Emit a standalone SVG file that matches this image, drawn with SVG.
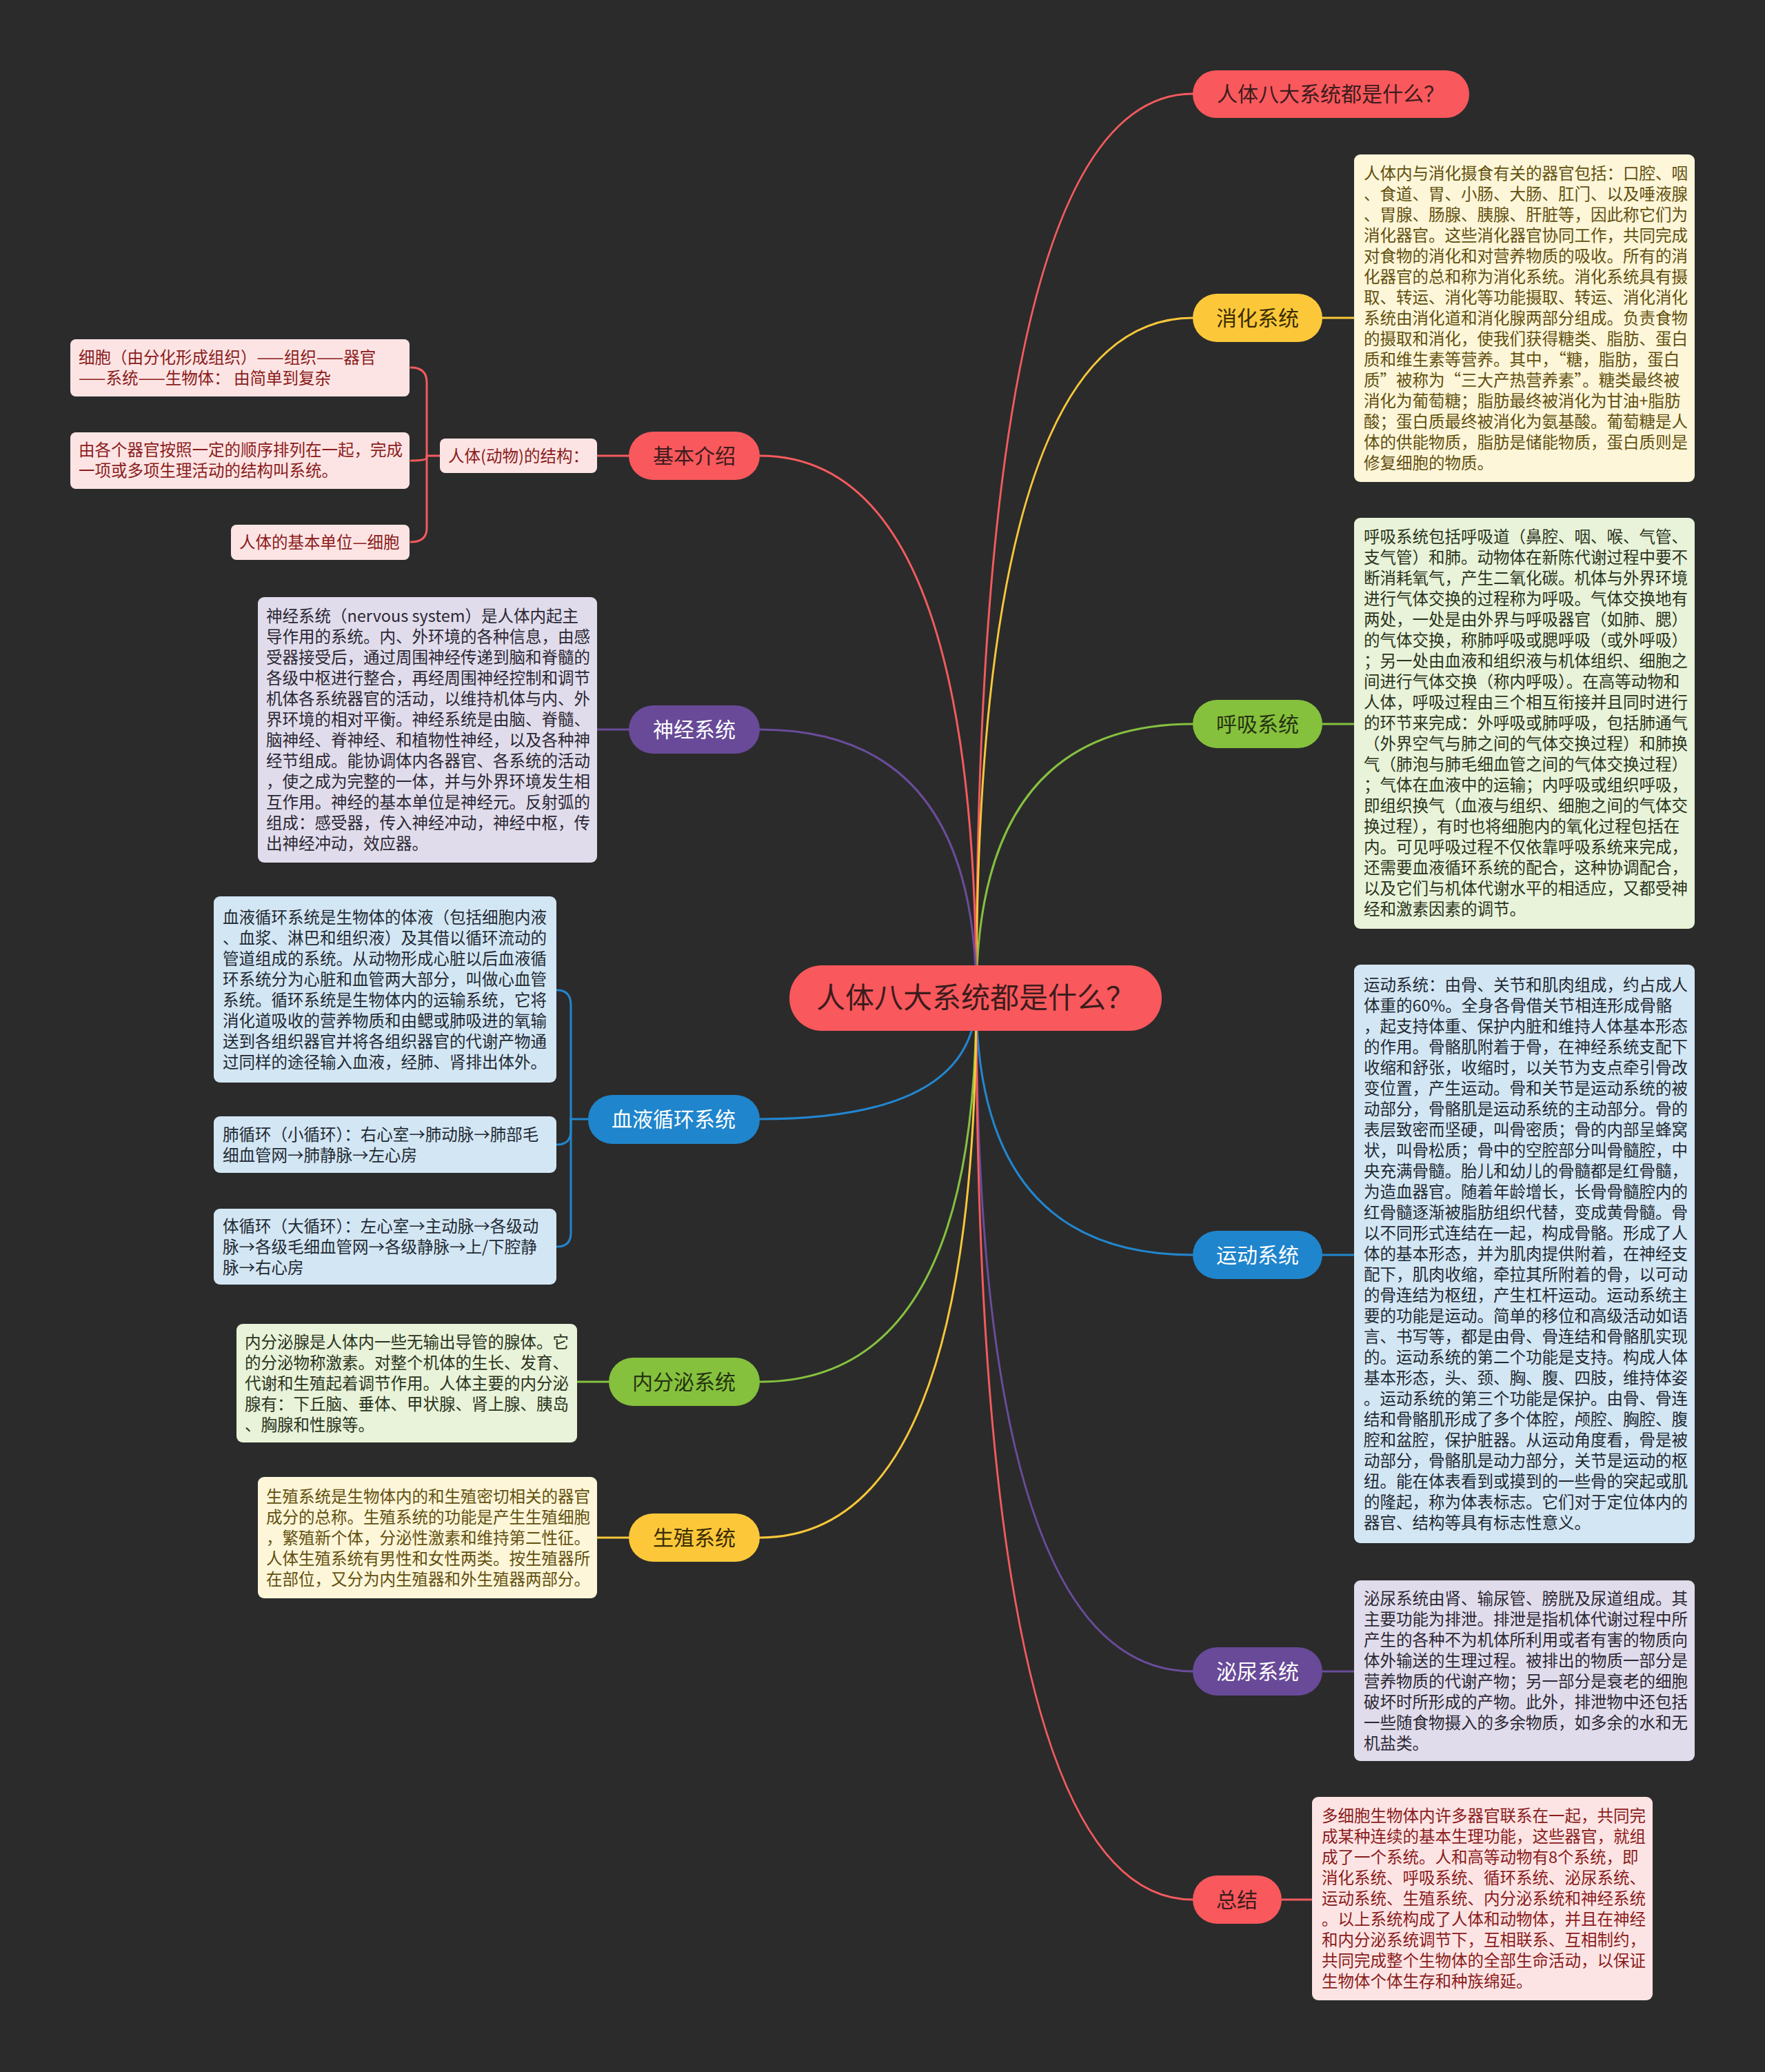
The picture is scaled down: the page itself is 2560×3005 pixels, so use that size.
<svg xmlns="http://www.w3.org/2000/svg" width="2560" height="3005" viewBox="0 0 2560 3005">
<style>
.c{fill:none;stroke-width:3;stroke-linecap:round}
.sr{stroke:#f45b5e}.sy{stroke:#f8c73a}.sg{stroke:#86c13f}.sb{stroke:#2286cf}.sp{stroke:#6a4c9b}
text{font-family:"Noto Sans CJK SC","Noto Sans",sans-serif}
.t{font-size:23.5px}
.pt{font-size:30px;text-anchor:middle}
.pr{fill:#f9585c}.py{fill:#fcc83a}.pg{fill:#85c13d}.pb{fill:#1f85cc}.pp{fill:#684a98}
.tr{fill:#3c1c1d}.ty{fill:#3a2c00}.tg{fill:#26330f}.tw{fill:#ffffff}
.br{fill:#fde4e4}.by{fill:#fdf6d9}.bg{fill:#e8f3d9}.bb{fill:#d3e6f4}.bp{fill:#e1dcec}
.xr{fill:#8a1c1c}.xy{fill:#62500f}.xg{fill:#2b3320}.xb{fill:#1f2a33}.xp{fill:#2b2833}
</style>
<rect width="2560" height="3005" fill="#2b2b2b"/>
<g id="connectors">
<path class="c sr" d="M1416,1447 Q1416,136 1730,136"/>
<path class="c sy" d="M1416,1447 Q1416,461 1730,461"/>
<path class="c sg" d="M1416,1447 Q1416,1050 1730,1050"/>
<path class="c sb" d="M1416,1447 Q1416,1820 1730,1820"/>
<path class="c sp" d="M1416,1447 Q1416,2424 1730,2424"/>
<path class="c sr" d="M1416,1447 Q1416,2755 1730,2755"/>
<path class="c sr" d="M1416,1447 Q1416,661 1102,661"/>
<path class="c sp" d="M1416,1447 Q1416,1058 1102,1058"/>
<path class="c sb" d="M1416,1447 Q1416,1623 1102,1623"/>
<path class="c sg" d="M1416,1447 Q1416,2004 1102,2004"/>
<path class="c sy" d="M1416,1447 Q1416,2230 1102,2230"/>
<path class="c sy" d="M1918,461 L1964,461"/>
<path class="c sg" d="M1918,1050 L1964,1050"/>
<path class="c sb" d="M1918,1820 L1964,1820"/>
<path class="c sp" d="M1918,2424 L1964,2424"/>
<path class="c sr" d="M1859,2755 L1903,2755"/>
<path class="c sr" d="M912,661 L866,661"/>
<path class="c sp" d="M912,1058 L866,1058"/>
<path class="c sg" d="M883,2004 L837,2004"/>
<path class="c sy" d="M912,2230 L866,2230"/>
<path class="c sr" d="M638,661 L619,661 L619,555 Q619,533 596,533"/>
<path class="c sr" d="M619,661 L619,766 Q619,786 596,786"/>
<path class="c sr" d="M619,661 L619,664 Q619,668 596,668"/>
<path class="c sb" d="M853,1623 L828,1623 L828,1458 Q828,1436 808,1436"/>
<path class="c sb" d="M828,1623 L828,1640 Q828,1660 808,1660"/>
<path class="c sb" d="M828,1623 L828,1788 Q828,1808 808,1808"/>
</g>
<g id="center">
<rect x="1145" y="1400" width="540" height="95" rx="47" class="pr"/>
<text x="1415" y="1462" style="font-size:42px;text-anchor:middle" class="tr">人体八大系统都是什么？</text>
</g>
<g id="n-title">
<rect x="1730" y="102" width="401" height="69" rx="34" class="pr"/>
<text x="1930" y="147" class="pt tr">人体八大系统都是什么？</text>
</g>
<g id="n-xiaohua">
<rect x="1730" y="426" width="188" height="70" rx="35" class="py"/>
<text x="1824" y="472" class="pt ty">消化系统</text>
<rect x="1964" y="224" width="494" height="475" rx="9" class="by"/>
<text class="t xy" x="1978" y="260"><tspan x="1978">人体内与消化摄食有关的器官包括：口腔、咽</tspan><tspan x="1978" dy="30">、食道、胃、小肠、大肠、肛门、以及唾液腺</tspan><tspan x="1978" dy="30">、胃腺、肠腺、胰腺、肝脏等，因此称它们为</tspan><tspan x="1978" dy="30">消化器官。这些消化器官协同工作，共同完成</tspan><tspan x="1978" dy="30">对食物的消化和对营养物质的吸收。所有的消</tspan><tspan x="1978" dy="30">化器官的总和称为消化系统。消化系统具有摄</tspan><tspan x="1978" dy="30">取、转运、消化等功能摄取、转运、消化消化</tspan><tspan x="1978" dy="30">系统由消化道和消化腺两部分组成。负责食物</tspan><tspan x="1978" dy="30">的摄取和消化，使我们获得糖类、脂肪、蛋白</tspan><tspan x="1978" dy="30">质和维生素等营养。其中，“糖，脂肪，蛋白</tspan><tspan x="1978" dy="30">质”被称为“三大产热营养素”。糖类最终被</tspan><tspan x="1978" dy="30">消化为葡萄糖；脂肪最终被消化为甘油+脂肪</tspan><tspan x="1978" dy="30">酸；蛋白质最终被消化为氨基酸。葡萄糖是人</tspan><tspan x="1978" dy="30">体的供能物质，脂肪是储能物质，蛋白质则是</tspan><tspan x="1978" dy="30">修复细胞的物质。</tspan></text>
</g>
<g id="n-huxi">
<rect x="1730" y="1015" width="188" height="70" rx="35" class="pg"/>
<text x="1824" y="1061" class="pt tg">呼吸系统</text>
<rect x="1964" y="751" width="494" height="596" rx="9" class="bg"/>
<text class="t xg" x="1978" y="787"><tspan x="1978">呼吸系统包括呼吸道（鼻腔、咽、喉、气管、</tspan><tspan x="1978" dy="30">支气管）和肺。动物体在新陈代谢过程中要不</tspan><tspan x="1978" dy="30">断消耗氧气，产生二氧化碳。机体与外界环境</tspan><tspan x="1978" dy="30">进行气体交换的过程称为呼吸。气体交换地有</tspan><tspan x="1978" dy="30">两处，一处是由外界与呼吸器官（如肺、腮）</tspan><tspan x="1978" dy="30">的气体交换，称肺呼吸或腮呼吸（或外呼吸）</tspan><tspan x="1978" dy="30">；另一处由血液和组织液与机体组织、细胞之</tspan><tspan x="1978" dy="30">间进行气体交换（称内呼吸）。在高等动物和</tspan><tspan x="1978" dy="30">人体，呼吸过程由三个相互衔接并且同时进行</tspan><tspan x="1978" dy="30">的环节来完成：外呼吸或肺呼吸，包括肺通气</tspan><tspan x="1978" dy="30">（外界空气与肺之间的气体交换过程）和肺换</tspan><tspan x="1978" dy="30">气（肺泡与肺毛细血管之间的气体交换过程）</tspan><tspan x="1978" dy="30">；气体在血液中的运输；内呼吸或组织呼吸，</tspan><tspan x="1978" dy="30">即组织换气（血液与组织、细胞之间的气体交</tspan><tspan x="1978" dy="30">换过程），有时也将细胞内的氧化过程包括在</tspan><tspan x="1978" dy="30">内。可见呼吸过程不仅依靠呼吸系统来完成，</tspan><tspan x="1978" dy="30">还需要血液循环系统的配合，这种协调配合，</tspan><tspan x="1978" dy="30">以及它们与机体代谢水平的相适应，又都受神</tspan><tspan x="1978" dy="30">经和激素因素的调节。</tspan></text>
</g>
<g id="n-yundong">
<rect x="1730" y="1785" width="188" height="70" rx="35" class="pb"/>
<text x="1824" y="1831" class="pt tw">运动系统</text>
<rect x="1964" y="1399" width="494" height="839" rx="9" class="bb"/>
<text class="t xb" x="1978" y="1437"><tspan x="1978">运动系统：由骨、关节和肌肉组成，约占成人</tspan><tspan x="1978" dy="30">体重的60%。全身各骨借关节相连形成骨骼</tspan><tspan x="1978" dy="30">，起支持体重、保护内脏和维持人体基本形态</tspan><tspan x="1978" dy="30">的作用。骨骼肌附着于骨，在神经系统支配下</tspan><tspan x="1978" dy="30">收缩和舒张，收缩时，以关节为支点牵引骨改</tspan><tspan x="1978" dy="30">变位置，产生运动。骨和关节是运动系统的被</tspan><tspan x="1978" dy="30">动部分，骨骼肌是运动系统的主动部分。骨的</tspan><tspan x="1978" dy="30">表层致密而坚硬，叫骨密质；骨的内部呈蜂窝</tspan><tspan x="1978" dy="30">状，叫骨松质；骨中的空腔部分叫骨髓腔，中</tspan><tspan x="1978" dy="30">央充满骨髓。胎儿和幼儿的骨髓都是红骨髓，</tspan><tspan x="1978" dy="30">为造血器官。随着年龄增长，长骨骨髓腔内的</tspan><tspan x="1978" dy="30">红骨髓逐渐被脂肪组织代替，变成黄骨髓。骨</tspan><tspan x="1978" dy="30">以不同形式连结在一起，构成骨骼。形成了人</tspan><tspan x="1978" dy="30">体的基本形态，并为肌肉提供附着，在神经支</tspan><tspan x="1978" dy="30">配下，肌肉收缩，牵拉其所附着的骨，以可动</tspan><tspan x="1978" dy="30">的骨连结为枢纽，产生杠杆运动。运动系统主</tspan><tspan x="1978" dy="30">要的功能是运动。简单的移位和高级活动如语</tspan><tspan x="1978" dy="30">言、书写等，都是由骨、骨连结和骨骼肌实现</tspan><tspan x="1978" dy="30">的。运动系统的第二个功能是支持。构成人体</tspan><tspan x="1978" dy="30">基本形态，头、颈、胸、腹、四肢，维持体姿</tspan><tspan x="1978" dy="30">。运动系统的第三个功能是保护。由骨、骨连</tspan><tspan x="1978" dy="30">结和骨骼肌形成了多个体腔，颅腔、胸腔、腹</tspan><tspan x="1978" dy="30">腔和盆腔，保护脏器。从运动角度看，骨是被</tspan><tspan x="1978" dy="30">动部分，骨骼肌是动力部分，关节是运动的枢</tspan><tspan x="1978" dy="30">纽。能在体表看到或摸到的一些骨的突起或肌</tspan><tspan x="1978" dy="30">的隆起，称为体表标志。它们对于定位体内的</tspan><tspan x="1978" dy="30">器官、结构等具有标志性意义。</tspan></text>
</g>
<g id="n-miniao">
<rect x="1730" y="2389" width="188" height="70" rx="35" class="pp"/>
<text x="1824" y="2435" class="pt tw">泌尿系统</text>
<rect x="1964" y="2292" width="494" height="262" rx="9" class="bp"/>
<text class="t xp" x="1978" y="2327"><tspan x="1978">泌尿系统由肾、输尿管、膀胱及尿道组成。其</tspan><tspan x="1978" dy="30">主要功能为排泄。排泄是指机体代谢过程中所</tspan><tspan x="1978" dy="30">产生的各种不为机体所利用或者有害的物质向</tspan><tspan x="1978" dy="30">体外输送的生理过程。被排出的物质一部分是</tspan><tspan x="1978" dy="30">营养物质的代谢产物；另一部分是衰老的细胞</tspan><tspan x="1978" dy="30">破坏时所形成的产物。此外，排泄物中还包括</tspan><tspan x="1978" dy="30">一些随食物摄入的多余物质，如多余的水和无</tspan><tspan x="1978" dy="30">机盐类。</tspan></text>
</g>
<g id="n-zongjie">
<rect x="1730" y="2720" width="129" height="70" rx="35" class="pr"/>
<text x="1794" y="2766" class="pt tr">总结</text>
<rect x="1903" y="2606" width="494" height="295" rx="9" class="br"/>
<text class="t xr" x="1917" y="2642"><tspan x="1917">多细胞生物体内许多器官联系在一起，共同完</tspan><tspan x="1917" dy="30">成某种连续的基本生理功能，这些器官，就组</tspan><tspan x="1917" dy="30">成了一个系统。人和高等动物有8个系统，即</tspan><tspan x="1917" dy="30">消化系统、呼吸系统、循环系统、泌尿系统、</tspan><tspan x="1917" dy="30">运动系统、生殖系统、内分泌系统和神经系统</tspan><tspan x="1917" dy="30">。以上系统构成了人体和动物体，并且在神经</tspan><tspan x="1917" dy="30">和内分泌系统调节下，互相联系、互相制约，</tspan><tspan x="1917" dy="30">共同完成整个生物体的全部生命活动，以保证</tspan><tspan x="1917" dy="30">生物体个体生存和种族绵延。</tspan></text>
</g>
<g id="n-jiben">
<rect x="912" y="626" width="190" height="70" rx="35" class="pr"/>
<text x="1007" y="672" class="pt tr">基本介绍</text>
</g>
<g id="n-jiegou">
<rect x="638" y="636" width="228" height="50" rx="8" class="br"/>
<text x="752" y="670" class="t xr" style="text-anchor:middle">人体(动物)的结构：</text>
</g>
<g id="n-jiben-a">
<rect x="102" y="492" width="492" height="83" rx="8" class="br"/>
<text class="t xr" x="114" y="527"><tspan x="114">细胞（由分化形成组织）——组织——器官</tspan><tspan x="114" dy="30">——系统——生物体：  由简单到复杂</tspan></text>
</g>
<g id="n-jiben-b">
<rect x="102" y="627" width="492" height="82" rx="8" class="br"/>
<text class="t xr" x="114" y="661"><tspan x="114">由各个器官按照一定的顺序排列在一起，完成</tspan><tspan x="114" dy="30">一项或多项生理活动的结构叫系统。</tspan></text>
</g>
<g id="n-jiben-c">
<rect x="335" y="761" width="259" height="51" rx="8" class="br"/>
<text class="t xr" x="347" y="795">人体的基本单位—细胞</text>
</g>
<g id="n-shenjing">
<rect x="912" y="1023" width="190" height="70" rx="35" class="pp"/>
<text x="1007" y="1069" class="pt tw">神经系统</text>
<rect x="374" y="866" width="492" height="385" rx="9" class="bp"/>
<text class="t xp" x="386" y="902"><tspan x="386">神经系统（nervous system）是人体内起主</tspan><tspan x="386" dy="30">导作用的系统。内、外环境的各种信息，由感</tspan><tspan x="386" dy="30">受器接受后，通过周围神经传递到脑和脊髓的</tspan><tspan x="386" dy="30">各级中枢进行整合，再经周围神经控制和调节</tspan><tspan x="386" dy="30">机体各系统器官的活动，以维持机体与内、外</tspan><tspan x="386" dy="30">界环境的相对平衡。神经系统是由脑、脊髓、</tspan><tspan x="386" dy="30">脑神经、脊神经、和植物性神经，以及各种神</tspan><tspan x="386" dy="30">经节组成。能协调体内各器官、各系统的活动</tspan><tspan x="386" dy="30">，使之成为完整的一体，并与外界环境发生相</tspan><tspan x="386" dy="30">互作用。神经的基本单位是神经元。反射弧的</tspan><tspan x="386" dy="30">组成：感受器，传入神经冲动，神经中枢，传</tspan><tspan x="386" dy="30">出神经冲动，效应器。</tspan></text>
</g>
<g id="n-xueye">
<rect x="853" y="1588" width="249" height="71" rx="35" class="pb"/>
<text x="977" y="1634" class="pt tw">血液循环系统</text>
</g>
<g id="n-xueye-a">
<rect x="310" y="1300" width="497" height="270" rx="9" class="bb"/>
<text class="t xb" x="323" y="1339"><tspan x="323">血液循环系统是生物体的体液（包括细胞内液</tspan><tspan x="323" dy="30">、血浆、淋巴和组织液）及其借以循环流动的</tspan><tspan x="323" dy="30">管道组成的系统。从动物形成心脏以后血液循</tspan><tspan x="323" dy="30">环系统分为心脏和血管两大部分，叫做心血管</tspan><tspan x="323" dy="30">系统。循环系统是生物体内的运输系统，它将</tspan><tspan x="323" dy="30">消化道吸收的营养物质和由鳃或肺吸进的氧输</tspan><tspan x="323" dy="30">送到各组织器官并将各组织器官的代谢产物通</tspan><tspan x="323" dy="30">过同样的途径输入血液，经肺、肾排出体外。</tspan></text>
</g>
<g id="n-xueye-b">
<rect x="310" y="1619" width="497" height="82" rx="9" class="bb"/>
<text class="t xb" x="323" y="1654"><tspan x="323">肺循环（小循环）：右心室→肺动脉→肺部毛</tspan><tspan x="323" dy="30">细血管网→肺静脉→左心房</tspan></text>
</g>
<g id="n-xueye-c">
<rect x="310" y="1753" width="497" height="110" rx="9" class="bb"/>
<text class="t xb" x="323" y="1787"><tspan x="323">体循环（大循环）：左心室→主动脉→各级动</tspan><tspan x="323" dy="30">脉→各级毛细血管网→各级静脉→上/下腔静</tspan><tspan x="323" dy="30">脉→右心房</tspan></text>
</g>
<g id="n-neifenmi">
<rect x="883" y="1969" width="219" height="70" rx="35" class="pg"/>
<text x="992" y="2015" class="pt tg">内分泌系统</text>
<rect x="343" y="1920" width="494" height="172" rx="9" class="bg"/>
<text class="t xg" x="355" y="1955"><tspan x="355">内分泌腺是人体内一些无输出导管的腺体。它</tspan><tspan x="355" dy="30">的分泌物称激素。对整个机体的生长、发育、</tspan><tspan x="355" dy="30">代谢和生殖起着调节作用。人体主要的内分泌</tspan><tspan x="355" dy="30">腺有：下丘脑、垂体、甲状腺、肾上腺、胰岛</tspan><tspan x="355" dy="30">、胸腺和性腺等。</tspan></text>
</g>
<g id="n-shengzhi">
<rect x="912" y="2195" width="190" height="70" rx="35" class="py"/>
<text x="1007" y="2241" class="pt ty">生殖系统</text>
<rect x="374" y="2142" width="492" height="176" rx="9" class="by"/>
<text class="t xy" x="386" y="2179"><tspan x="386">生殖系统是生物体内的和生殖密切相关的器官</tspan><tspan x="386" dy="30">成分的总称。生殖系统的功能是产生生殖细胞</tspan><tspan x="386" dy="30">，繁殖新个体，分泌性激素和维持第二性征。</tspan><tspan x="386" dy="30">人体生殖系统有男性和女性两类。按生殖器所</tspan><tspan x="386" dy="30">在部位，又分为内生殖器和外生殖器两部分。</tspan></text>
</g>
</svg>
